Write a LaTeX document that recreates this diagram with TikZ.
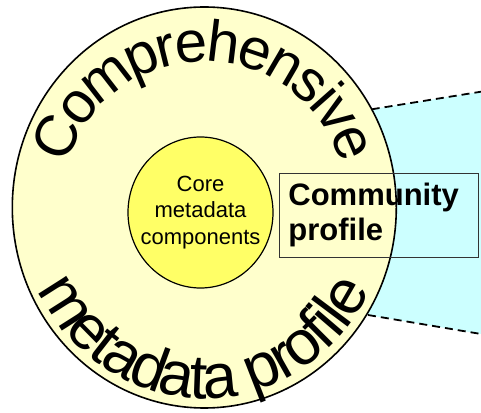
\documentclass[tikz,border=0pt]{standalone}
\usepackage{fontspec}
\setmainfont{Liberation Sans}
\usetikzlibrary{decorations.text,shapes.geometric}
\definecolor{outerfill}{RGB}{255,255,204}
\definecolor{innerfill}{RGB}{255,255,102}
\definecolor{cyanfill}{RGB}{204,255,255}
\tikzset{
  ring/.style={ellipse, draw=black, line width=1.6pt, fill=outerfill, inner sep=0pt},
  coredisc/.style={ellipse, draw=black, line width=1.2pt, fill=innerfill, inner sep=0pt},
  coretext/.style={align=center, inner sep=0pt, font=\fontsize{22}{26.5}\selectfont},
  profilebox/.style={draw=black!80, line width=0.8pt, rectangle, inner xsep=9pt, inner ysep=0pt,
    text width=181pt, minimum height=84pt, align=left, font=\bfseries\fontsize{31}{35}\selectfont},
  zoomedge/.style={dashed, line width=1.8pt, dash pattern=on 8pt off 5pt},
}
\begin{document}
\begin{tikzpicture}[x=1pt,y=1pt]
\useasboundingbox (0,0) rectangle (481,412);
% zoom region
\coordinate (t0) at (371.7,302.7);
\coordinate (t1) at (481,320.3);
\coordinate (b0) at (368,97);
\coordinate (b1) at (481,78);
\fill[cyanfill] (300,290) -- (t0) -- (t1) -- (b1) -- (b0) -- (300,110) -- cycle;
\draw[zoomedge] (t0) -- (t1);
\draw[zoomedge] (b0) -- (b1);
% outer ring
\node[ring, minimum width=384pt, minimum height=401pt] (outer) at (204.3,204.5) {};
% curved texts
\path[decorate, decoration={text effects along path, text={Comprehensive}, text align=center,
  text effects/.cd,
    characters={font=\fontsize{52}{52}\selectfont, inner sep=0pt, transform shape, scale=1.12, anchor=base},
    character widths={font=\fontsize{52}{52}\selectfont, inner sep=0pt}}]
  (204.3,204.5) ++(180:144pt) arc[start angle=180, end angle=0, x radius=144pt, y radius=146pt];
\path[decorate, decoration={text effects along path, text={metadata profile}, text align=center,
  text effects/.cd,
    characters={font=\fontsize{58}{58}\selectfont, inner sep=0pt, transform shape, scale=1.08, anchor=base},
    character widths={font=\fontsize{58}{58}\selectfont, inner sep=0pt}}]
  (204.3,204.5) ++(180:184pt) arc[start angle=180, end angle=360, x radius=184pt, y radius=191pt];
% core
\node[coredisc, minimum width=145pt, minimum height=151pt] (core) at (200.5,199.5) {};
\node[coretext] (coretxt) at (core.center) {Core\\metadata\\components};
% community profile
\node[profilebox, anchor=north west] (community) at (279,239) {Community\\profile};
\end{tikzpicture}
\end{document}
